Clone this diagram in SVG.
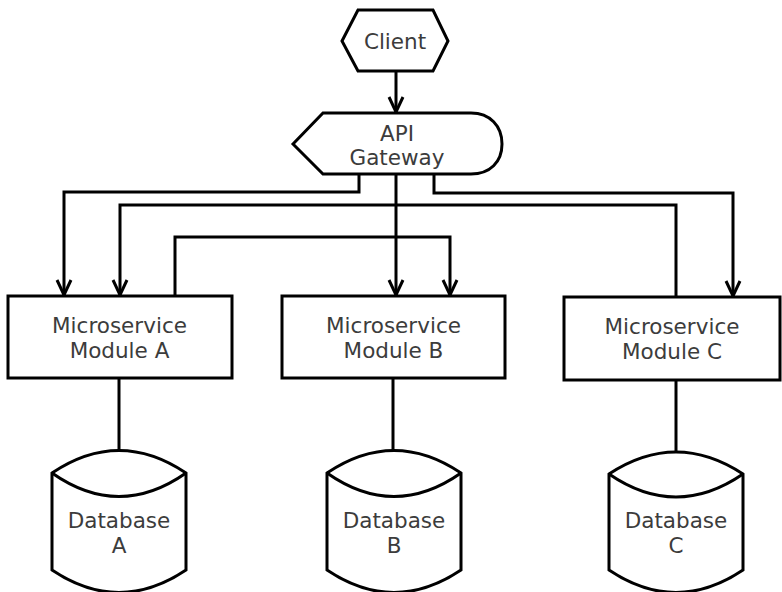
<svg xmlns="http://www.w3.org/2000/svg" width="782" height="592" viewBox="0 0 782 592">
<style>
.shape{fill:#fff;stroke:#000;stroke-width:3;stroke-linejoin:miter}
.edge{fill:none;stroke:#000;stroke-width:3}
.lbl{font-family:"DejaVu Sans",sans-serif;font-size:21.5px;fill:#3c3c3c;text-anchor:middle}
</style>
<defs>
<marker id="vee" markerUnits="userSpaceOnUse" markerWidth="24" markerHeight="24" viewBox="-20 -12 24 24" refX="0" refY="0" orient="auto" overflow="visible">
<path d="M-15,-7 L0,0 L-15,7" fill="none" stroke="#000" stroke-width="3"/>
</marker>
</defs>
<rect width="782" height="592" fill="#fff"/>
<g id="connectors">
<path class="edge" d="M396,71 V112" marker-end="url(#vee)"/>
<path class="edge" d="M359,175 V192 H64 V295" marker-end="url(#vee)"/>
<path class="edge" d="M396,175 V295" marker-end="url(#vee)"/>
<path class="edge" d="M434,175 V193 H733 V296" marker-end="url(#vee)"/>
<path class="edge" d="M676,297 V205 H120 V295" marker-end="url(#vee)"/>
<path class="edge" d="M175,296 V237 H450 V295" marker-end="url(#vee)"/>
<path class="edge" d="M119,378 V450"/>
<path class="edge" d="M393,378 V450"/>
<path class="edge" d="M676,380 V452"/>
</g>
<g id="client">
<polygon class="shape" points="342,41 358,10 433,10 448,41 433,71 358,71"/>
<text class="lbl" x="395" y="48.5">Client</text>
</g>
<g id="gateway">
<path class="shape" d="M293,144 L323,113 H471 C490,113 502,126 502,144 C502,162 490,174 471,174 H323 Z"/>
<text class="lbl" x="397" y="140.5">API</text>
<text class="lbl" x="397" y="164.5">Gateway</text>
</g>
<g id="moduleA">
<rect class="shape" x="8" y="296" width="224" height="82"/>
<text class="lbl" x="119.5" y="333">Microservice</text>
<text class="lbl" x="119.5" y="358">Module A</text>
</g>
<g id="moduleB">
<rect class="shape" x="282" y="296" width="223" height="82"/>
<text class="lbl" x="393.5" y="333">Microservice</text>
<text class="lbl" x="393.5" y="358">Module B</text>
</g>
<g id="moduleC">
<rect class="shape" x="564" y="297" width="216" height="83"/>
<text class="lbl" x="672" y="334">Microservice</text>
<text class="lbl" x="672" y="359">Module C</text>
</g>
<g id="dbA">
<path class="shape" d="M52,473 Q119,428 186,473 V570 Q119,615 52,570 Z"/>
<path class="edge" d="M52,473 Q119,520 186,473"/>
<text class="lbl" x="119" y="527.5">Database</text>
<text class="lbl" x="119" y="552.5">A</text>
</g>
<g id="dbB">
<path class="shape" d="M327,473 Q394,428 461,473 V570 Q394,615 327,570 Z"/>
<path class="edge" d="M327,473 Q394,520 461,473"/>
<text class="lbl" x="394" y="527.5">Database</text>
<text class="lbl" x="394" y="552.5">B</text>
</g>
<g id="dbC">
<path class="shape" d="M609,474 Q676,430 743,474 V570 Q676,615 609,570 Z"/>
<path class="edge" d="M609,474 Q676,520 743,474"/>
<text class="lbl" x="676" y="528">Database</text>
<text class="lbl" x="676" y="553">C</text>
</g>
</svg>
